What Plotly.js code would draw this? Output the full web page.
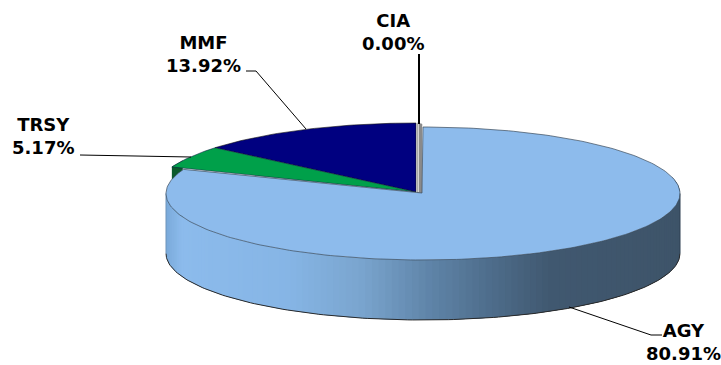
<!DOCTYPE html>
<html>
<head>
<meta charset="utf-8">
<script src="https://cdn.plot.ly/plotly-3.0.1.min.js"></script>
<style>html,body{margin:0;padding:0;background:#fff}#c{width:721px;height:365px}</style>
</head>
<body>
<div id="c"></div>
<script>
// Data
const categories = ['AGY', 'TRSY', 'MMF', 'CIA'];
const shares = [80.91, 5.17, 13.92, 0.00];

// Styles
const sliceColors = {AGY: '#8DBBEC', TRSY: '#00A04A', MMF: '#000080'};
const wallStops = [[166,[122,170,218]],[182,[140,187,236]],[290,[134,181,229]],[360,[122,165,207]],
                   [430,[95,132,168]],[490,[78,109,139]],[550,[64,88,112]],[680,[62,84,105]]];

// Geometry of the projected pie
const main = {cx: 423, cy: 193.5, rx: 257, ry: 66.5};
const rest = {cx: 416, cy: 192, rx: 262, ry: 69};
const depth = 60;

const total = shares.reduce((a, b) => a + b, 0);
const ang = pct => pct / total * 2 * Math.PI;
const pt = (e, t, dy = 0) => [e.cx + e.rx * Math.sin(t), e.cy - e.ry * Math.cos(t) + dy];
function arc(e, t0, t1, dy = 0, step = 0.02) {
  const n = Math.max(2, Math.ceil(Math.abs(t1 - t0) / step));
  const out = [];
  for (let i = 0; i <= n; i++) out.push(pt(e, t0 + (t1 - t0) * i / n, dy));
  return out;
}
function poly(points, fill, line, width) {
  return {type: 'scatter', mode: 'lines', x: points.map(p => p[0]), y: points.map(p => p[1]),
    fill: fill ? 'toself' : 'none', fillcolor: fill || undefined,
    line: {color: line || fill, width: width === undefined ? 0.5 : width},
    hoverinfo: 'skip', showlegend: false};
}
function wallColor(x) {
  for (let i = 1; i < wallStops.length; i++) {
    if (x <= wallStops[i][0]) {
      const [x0, c0] = wallStops[i - 1], [x1, c1] = wallStops[i];
      const f = Math.max(0, (x - x0) / (x1 - x0));
      return 'rgb(' + c0.map((c, k) => Math.round(c + (c1[k] - c) * f)).join(',') + ')';
    }
  }
  return 'rgb(62,84,105)';
}

const agyEnd = ang(shares[0]);
const trsyEnd = agyEnd + ang(shares[1]);
const mmfEnd = trsyEnd + ang(shares[2]);

const traces = [];
const apex = [rest.cx, rest.cy];

// MMF top
traces.push(poly([apex, ...arc(rest, trsyEnd, mmfEnd), apex], sliceColors.MMF, '#111', 0.6));
// TRSY wall (hidden by AGY except a small corner)
traces.push(poly([...arc(rest, agyEnd, agyEnd + 0.1), ...arc(rest, agyEnd + 0.1, agyEnd, depth)], '#0B5A2C', '#0B5A2C', 0.5));
// TRSY top
traces.push(poly([apex, ...arc(rest, agyEnd, trsyEnd), apex], sliceColors.TRSY, '#114', 0.5));
// CIA: zero-width slice, only its grey cut faces show
const ciaL = pt(rest, 0);
traces.push(poly([[ciaL[0] + 1, ciaL[1]], [ciaL[0] + 6, ciaL[1] + 1], [ciaL[0] + 6, rest.cy + 1], [ciaL[0] + 1, rest.cy + 1]], '#8a8a8a', '#8a8a8a', 0.5));
traces.push(poly([[ciaL[0] + 2.2, ciaL[1]], [ciaL[0] + 2.2, rest.cy]], null, '#f2f2f2', 1));

// AGY wall strips: each one runs well under the next so no seams show
const N = 130, t0 = Math.PI / 2 - 0.25, t1 = 1.5 * Math.PI + 0.02;
const dt = (t1 - t0) / N;
for (let i = 0; i < N; i++) {
  const a = t0 + dt * i, b = a + dt;
  const col = wallColor((pt(main, a)[0] + pt(main, b)[0]) / 2);
  const over = Math.min(t1, b + dt * 2);
  traces.push(poly([...arc(main, a, over), ...arc(main, over, a, depth)], col, 'rgba(0,0,0,0)', 0));
}
// wall outline: bottom rim and vertical silhouettes
traces.push(poly(arc(main, Math.PI / 2, 1.5 * Math.PI, depth), null, '#2a2a2a', 1));
traces.push(poly([pt(main, Math.PI / 2), pt(main, Math.PI / 2, depth)], null, '#2f4052', 1));
traces.push(poly([pt(main, 1.5 * Math.PI), pt(main, 1.5 * Math.PI, depth)], null, '#6c93ba', 1));
// AGY top
traces.push(poly([[main.cx - 1, main.cy - 0.5], ...arc(main, 0, agyEnd), [main.cx - 1, main.cy - 0.5]], sliceColors.AGY, '#3b4a5a', 0.7));

// Leader lines
const leaders = [
  [[419, 54], [419, 124]],
  [[246, 71], [256, 71], [306, 129]],
  [[80, 155], [191, 157]],
  [[569, 307], [651, 335], [662, 335]]
];
leaders.forEach((l, i) => traces.push(poly(l, null, '#000', i === 0 ? 2 : 1)));

const labelPos = {CIA: [393, 32], MMF: [203, 54], TRSY: [43, 136], AGY: [683, 342]};
const annotations = categories.map((c, i) => ({
  xref: 'x', yref: 'y', x: labelPos[c][0], y: labelPos[c][1], showarrow: false,
  xanchor: 'center', yanchor: 'middle', align: 'center',
  text: '<b>' + c + '<br>' + shares[i].toFixed(2) + '%</b>',
  font: {family: 'DejaVu Sans, sans-serif', size: 18, color: '#000'}
}));

const layout = {
  width: 721, height: 365, margin: {l: 0, r: 0, t: 0, b: 0},
  paper_bgcolor: '#fff', plot_bgcolor: '#fff', showlegend: false,
  xaxis: {range: [0, 721], visible: false, fixedrange: true},
  yaxis: {range: [365, 0], visible: false, fixedrange: true},
  annotations
};
Plotly.newPlot('c', traces, layout, {displayModeBar: false, staticPlot: true});
</script>
</body>
</html>
